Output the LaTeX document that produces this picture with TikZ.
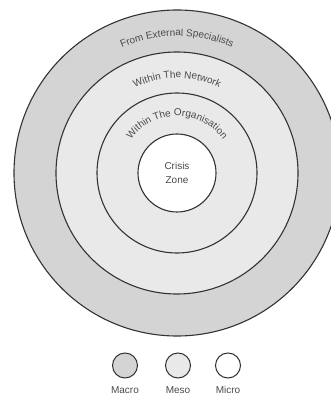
\documentclass[tikz,border=0pt]{standalone}
\usepackage{fontspec}
\setmainfont{Liberation Sans}
\usetikzlibrary{positioning,decorations.text}
\definecolor{macrogray}{HTML}{D4D4D4}
\definecolor{mesogray}{HTML}{E9E9E9}
\definecolor{linegray}{HTML}{333333}
\definecolor{textgray}{HTML}{4A4A4A}
\begin{document}
\begin{tikzpicture}[x=1pt, y=1pt,
    ring/.style={circle, draw=linegray, line width=1.1pt, inner sep=0pt},
    key/.style={ring, line width=1pt, minimum size=25pt},
    keylabel/.style={text=textgray, font=\fontsize{10}{12}\selectfont, text height=7.3pt, text depth=0pt, below=4pt of #1},
    arclabel/.style={decorate, decoration={text along path, text align=center, text={|\fontsize{10}{12}\selectfont\color{textgray}|#1}}}]
    \useasboundingbox (0,0) rectangle (330,397);
    \coordinate (c) at (177,224);
    \node[ring, fill=macrogray, minimum size=326pt] (external) at (c) {};
    \node[ring, fill=mesogray, minimum size=242pt] (network) at (c) {};
    \node[ring, fill=mesogray, minimum size=160pt] (organisation) at (c) {};
    \node[ring, fill=white, minimum size=78pt, align=center, text=textgray, font=\fontsize{10}{13.5}\selectfont] (crisis) at (c) {Crisis\\Zone};
    \path[arclabel={From External Specialists}] ([shift={(160:137)}]c) arc[start angle=160, end angle=20, radius=137];
    \path[arclabel={Within The Network}] ([shift={(160:95)}]c) arc[start angle=160, end angle=20, radius=95];
    \path[arclabel={Within The Organisation}] ([shift={(170:57)}]c) arc[start angle=170, end angle=10, radius=57];
    \node[key, fill=macrogray] (macro) at (125,31.5) {};
    \node[key, fill=mesogray] (meso) at (178,31.5) {};
    \node[key, fill=white] (micro) at (228,31.5) {};
    \node[keylabel=macro] (macrolabel) {Macro};
    \node[keylabel=meso] (mesolabel) {Meso};
    \node[keylabel=micro] (microlabel) {Micro};
\end{tikzpicture}
\end{document}
